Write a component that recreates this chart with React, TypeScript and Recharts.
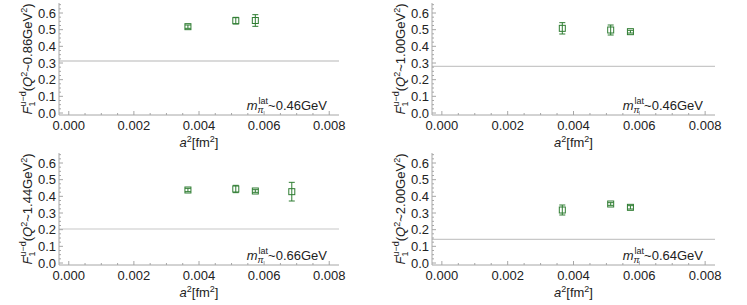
import { ErrorBar, Label, ReferenceLine, Scatter, ScatterChart, XAxis, YAxis } from "recharts";

// lattice spacings squared [fm^2]
const latticeA2 = [0.00366, 0.00513, 0.00573, 0.00685];

const q2Labels = ["0.86", "1.00", "1.44", "2.00"];
const pionMassLabels = ["0.46", "0.46", "0.66", "0.64"];

const f1Q086 = [0.518, 0.554, 0.555];
const f1Q086Err = [0.01, 0.02, 0.035];
const f1Q100 = [0.508, 0.498, 0.488];
const f1Q100Err = [0.034, 0.03, 0.008];
const f1Q144 = [0.438, 0.444, 0.432, 0.428];
const f1Q144Err = [0.01, 0.022, 0.008, 0.056];
const f1Q200 = [0.318, 0.354, 0.334];
const f1Q200Err = [0.03, 0.008, 0.01];

// horizontal reference (physical point) values
const physicalValues = [0.312, 0.28, 0.204, 0.142];

const xMajorTicks = [0, 0.002, 0.004, 0.006, 0.008];
const xTicks = [
  0, 0.0005, 0.001, 0.0015, 0.002, 0.0025, 0.003, 0.0035, 0.004, 0.0045, 0.005, 0.0055, 0.006,
  0.0065, 0.007, 0.0075, 0.008,
];
const yMajorTicks = [0, 0.1, 0.2, 0.3, 0.4, 0.5, 0.6];
const yTicks = [
  0, 0.025, 0.05, 0.075, 0.1, 0.125, 0.15, 0.175, 0.2, 0.225, 0.25, 0.275, 0.3, 0.325, 0.35,
  0.375, 0.4, 0.425, 0.45, 0.475, 0.5, 0.525, 0.55, 0.575, 0.6, 0.625, 0.65,
];

const X_DOMAIN: [number, number] = [-0.0003, 0.0083];
const Y_DOMAIN: [number, number] = [-0.012, 0.66];

const FRAME = "#a6a6a6";
const INK = "#222";
const GREEN = "#2f7d32";
const FONT = 13;
const SMALL = 9;

function BottomTick(props: any) {
  const { x, y, payload } = props;
  const major = xMajorTicks.includes(payload.value);
  return (
    <g>
      <line x1={x} x2={x} y1={y} y2={y - (major ? 4 : 2)} stroke={FRAME} />
      {major && (
        <text x={x} y={y + 15} textAnchor="middle" fontSize={FONT} fill={INK}>
          {payload.value.toFixed(3)}
        </text>
      )}
    </g>
  );
}

function TopTick(props: any) {
  const { x, y, payload } = props;
  const major = xMajorTicks.includes(payload.value);
  return <line x1={x} x2={x} y1={y} y2={y + (major ? 4 : 2)} stroke={FRAME} />;
}

function LeftTick(props: any) {
  const { x, y, payload } = props;
  const major = yMajorTicks.includes(payload.value);
  return (
    <g>
      <line x1={x} x2={x + (major ? 4 : 2)} y1={y} y2={y} stroke={FRAME} />
      {major && (
        <text x={x - 3} y={y + 4.5} textAnchor="end" fontSize={FONT} fill={INK}>
          {payload.value.toFixed(1)}
        </text>
      )}
    </g>
  );
}

function RightTick(props: any) {
  const { x, y, payload } = props;
  const major = yMajorTicks.includes(payload.value);
  return <line x1={x} x2={x - (major ? 4 : 2)} y1={y} y2={y} stroke={FRAME} />;
}

function OpenSquare(props: any) {
  const { cx, cy } = props;
  if (cx == null || cy == null) return null;
  return <rect x={cx - 3} y={cy - 3} width={6} height={6} fill="none" stroke={GREEN} strokeWidth={1} />;
}

interface PanelProps {
  q2: string;
  mass: string;
  values: number[];
  errors: number[];
  physical: number;
  left: number;
  top: number;
  width: number;
  right: number;
  lineColor: string;
  lineWidth: number;
}

function Panel({ q2, mass, values, errors, physical, left, top, width, right, lineColor, lineWidth }: PanelProps) {
  const data = values.map((v, i) => ({ x: latticeA2[i], y: v, err: errors[i] }));

  const yLabel = ({ viewBox }: any) => {
    const cx = viewBox.x + 32;
    const cy = viewBox.y + viewBox.height / 2;
    return (
      <text transform={`translate(${cx},${cy}) rotate(-90)`} textAnchor="middle" fontSize={FONT} fill={INK}>
        <tspan fontStyle="italic">F</tspan>
        <tspan fontSize={SMALL} dy={3}>1</tspan>
        <tspan fontSize={SMALL} dx={-5} dy={-9}>u−d</tspan>
        <tspan dy={6}>(</tspan>
        <tspan fontStyle="italic">Q</tspan>
        <tspan fontSize={SMALL} dy={-5}>2</tspan>
        <tspan dy={5}>~{q2}GeV</tspan>
        <tspan fontSize={SMALL} dy={-5}>2</tspan>
        <tspan dy={5}>)</tspan>
      </text>
    );
  };

  const xLabel = ({ viewBox }: any) => (
    <text x={viewBox.x + viewBox.width / 2} y={viewBox.y + 32} textAnchor="middle" fontSize={FONT} fill={INK}>
      <tspan fontStyle="italic">a</tspan>
      <tspan fontSize={SMALL} dy={-5}>2</tspan>
      <tspan dy={5}>[fm</tspan>
      <tspan fontSize={SMALL} dy={-5}>2</tspan>
      <tspan dy={5}>]</tspan>
    </text>
  );

  const massLabel = ({ viewBox }: any) => (
    <text x={viewBox.x + viewBox.width - 12} y={viewBox.y - 5} textAnchor="end" fontSize={FONT} fill={INK}>
      <tspan fontStyle="italic">m</tspan>
      <tspan fontSize={SMALL} fontStyle="italic" dy={3}>π</tspan>
      <tspan fontSize={SMALL} dx={-5} dy={-9}>lat</tspan>
      <tspan dy={6}>~{mass}GeV</tspan>
    </text>
  );

  return (
    <div style={{ position: "absolute", left, top }}>
      <ScatterChart width={width} height={150} margin={{ top: 3, right, bottom: 0, left: 0 }}>
        <XAxis
          xAxisId="b"
          type="number"
          dataKey="x"
          domain={X_DOMAIN}
          ticks={xTicks}
          interval={0}
          allowDataOverflow
          tick={(p: any) => <BottomTick {...p} />}
          tickLine={false}
          tickSize={0}
          tickMargin={0}
          axisLine={{ stroke: FRAME }}
          height={35}
        >
          <Label content={xLabel} />
          <Label content={massLabel} />
        </XAxis>
        <XAxis
          xAxisId="t"
          orientation="top"
          type="number"
          dataKey="x"
          domain={X_DOMAIN}
          ticks={xTicks}
          interval={0}
          allowDataOverflow
          tick={(p: any) => <TopTick {...p} />}
          tickLine={false}
          tickSize={0}
          tickMargin={0}
          axisLine={{ stroke: FRAME }}
          height={0}
        />
        <YAxis
          yAxisId="l"
          type="number"
          dataKey="y"
          domain={Y_DOMAIN}
          ticks={yTicks}
          interval={0}
          allowDataOverflow
          tick={(p: any) => <LeftTick {...p} />}
          tickLine={false}
          tickSize={0}
          tickMargin={0}
          axisLine={{ stroke: FRAME }}
          width={59}
        >
          <Label content={yLabel} />
        </YAxis>
        <YAxis
          yAxisId="r"
          orientation="right"
          type="number"
          dataKey="y"
          domain={Y_DOMAIN}
          ticks={yTicks}
          interval={0}
          allowDataOverflow
          tick={(p: any) => <RightTick {...p} />}
          tickLine={false}
          tickSize={0}
          tickMargin={0}
          axisLine={{ stroke: FRAME }}
          width={0}
        />
        <ReferenceLine xAxisId="b" yAxisId="l" y={physical} stroke={lineColor} strokeWidth={lineWidth} />
        <Scatter xAxisId="b" yAxisId="l" data={data} shape={OpenSquare} isAnimationActive={false}>
          <ErrorBar dataKey="err" direction="y" width={3} stroke={GREEN} strokeWidth={1} />
        </Scatter>
      </ScatterChart>
    </div>
  );
}

export default function App() {
  return (
    <div
      style={{
        position: "absolute",
        left: 0,
        top: 0,
        width: 747,
        height: 305,
        background: "#fff",
        fontFamily: "'Liberation Sans', Arial, sans-serif",
      }}
    >
      <Panel q2={q2Labels[0]} mass={pionMassLabels[0]} values={f1Q086} errors={f1Q086Err} physical={physicalValues[0]} left={0} top={0} width={370} right={31} lineColor="#dadada" lineWidth={2} />
      <Panel q2={q2Labels[1]} mass={pionMassLabels[1]} values={f1Q100} errors={f1Q100Err} physical={physicalValues[1]} left={373} top={0} width={374} right={32} lineColor="#c8c8c8" lineWidth={1.2} />
      <Panel q2={q2Labels[2]} mass={pionMassLabels[2]} values={f1Q144} errors={f1Q144Err} physical={physicalValues[2]} left={0} top={150} width={370} right={31} lineColor="#c8c8c8" lineWidth={1.2} />
      <Panel q2={q2Labels[3]} mass={pionMassLabels[3]} values={f1Q200} errors={f1Q200Err} physical={physicalValues[3]} left={373} top={150} width={374} right={32} lineColor="#c8c8c8" lineWidth={1.2} />
    </div>
  );
}
